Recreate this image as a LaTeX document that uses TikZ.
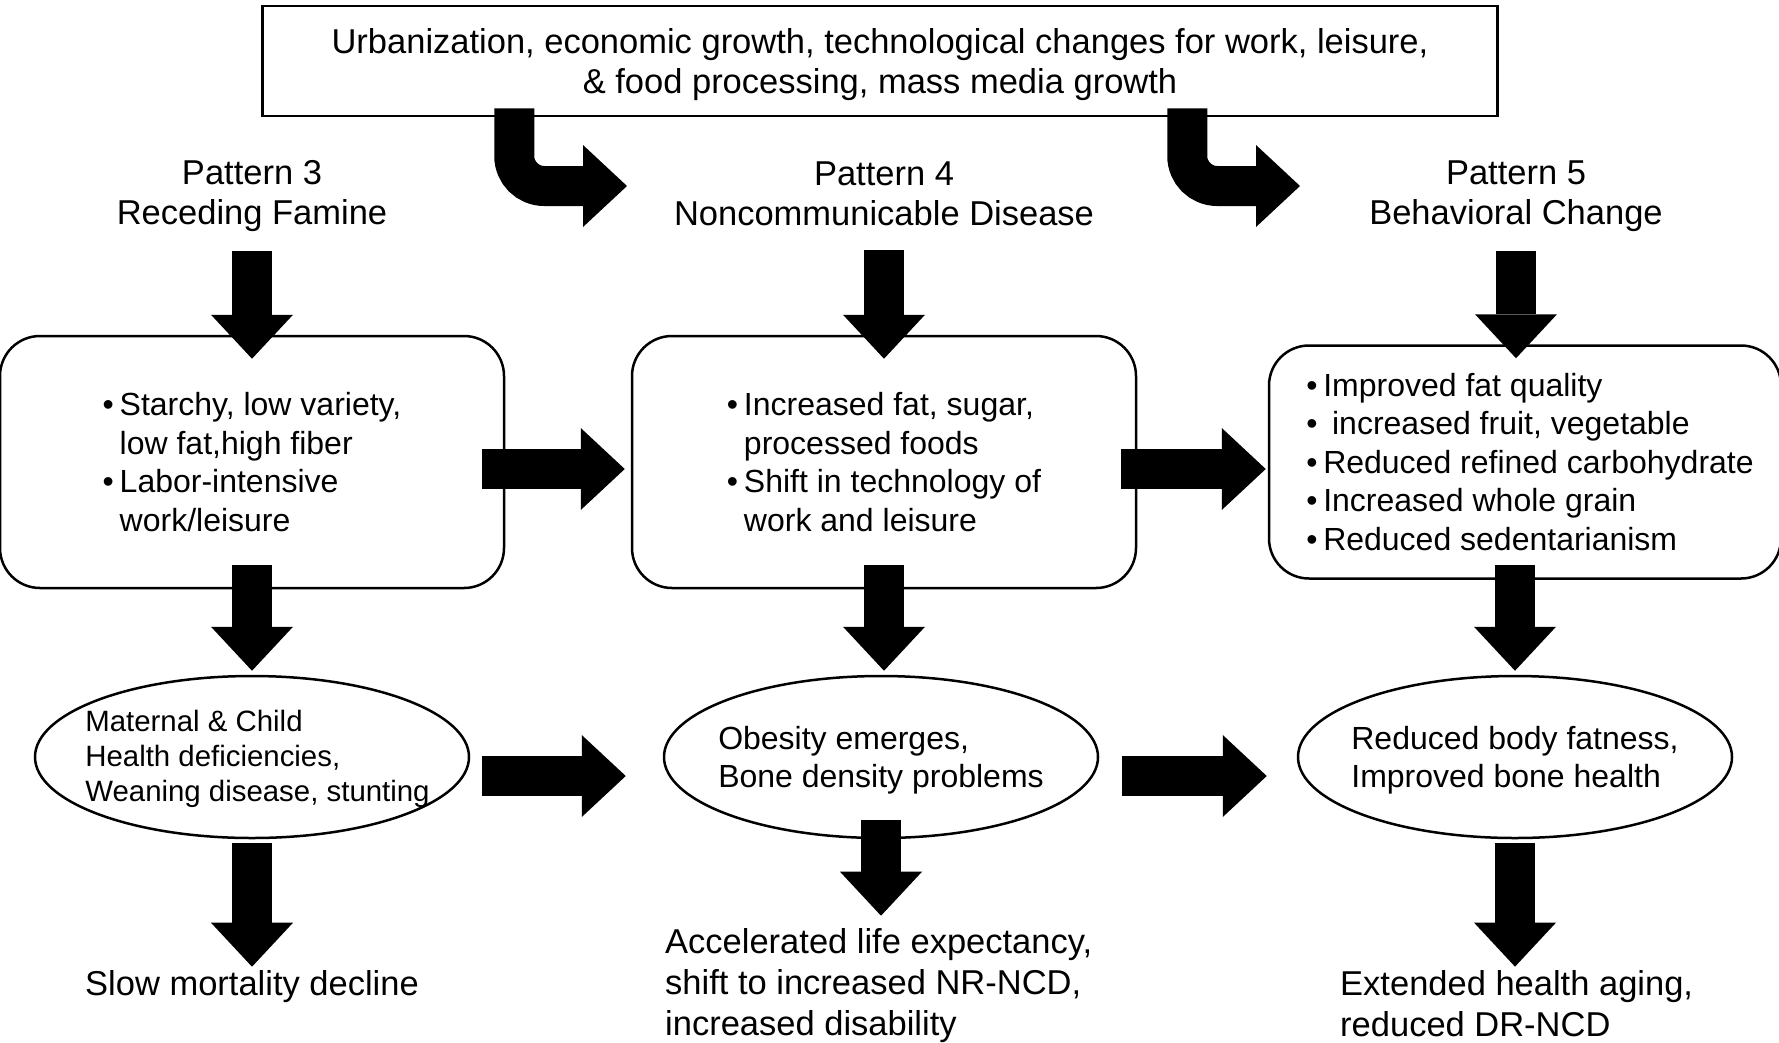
\documentclass[tikz,border=0pt]{standalone}
\usepackage{fontspec}
\setmainfont{Liberation Sans}
\usetikzlibrary{shapes,arrows.meta,calc,positioning}

\newcommand{\dietitem}{\makebox[17pt][l]{\textbullet}}
\newcommand{\dietcont}{\hspace*{17pt}}

\begin{document}
\begin{tikzpicture}[x=1pt,y=-1pt,font=\fontsize{34.5}{40}\selectfont]
  \tikzset{block arrow/.style={line width=40pt,-{Triangle[length=44pt,width=82pt,line width=0pt]}},
           diet box/.style={draw,line width=2.5pt,rounded corners=40pt,align=left,minimum width=504pt,minimum height=252pt,font=\fontsize{32}{38.5}\selectfont},
           health oval/.style={draw,ellipse,line width=2.5pt,align=left,minimum width=434pt,minimum height=162pt,inner xsep=-40pt,inner ysep=0pt,font=\fontsize{32}{38}\selectfont},
           pattern/.style={align=center,inner sep=0pt},
           outcome/.style={align=left,inner sep=0pt,anchor=west,font=\fontsize{34.5}{41}\selectfont}}
  \useasboundingbox (0,0) rectangle (1779,1042);
  \node [draw,line width=2.5pt,minimum width=1235pt,minimum height=110pt,align=center] (top) at (880,61)
    {\rule{0pt}{32pt}Urbanization, economic growth, technological changes for work, leisure,\\\& food processing, mass media growth};
  \node [pattern] (P3) at (252,196) {Pattern 3\\Receding Famine};
  \node [pattern] (P4) at (884,194) {Pattern 4\\Noncommunicable Disease};
  \node [pattern] (P5) at (1516,196) {Pattern 5\\Behavioral Change};
  \node [diet box] (D3) at (252,462) {\dietitem Starchy, low variety,\\\dietcont low fat,high fiber\\\dietitem Labor-intensive\\\dietcont work/leisure};
  \node [diet box] (D4) at (884,462) {\dietitem Increased fat, sugar,\\\dietcont processed foods\\\dietitem Shift in technology of\\\dietcont work and leisure};
  \node [diet box,minimum width=512pt,minimum height=233pt] (D5) at (1525,462)
    {\hspace*{10pt}\dietitem Improved fat quality\\\hspace*{10pt}\dietitem\ increased fruit, vegetable\\\hspace*{10pt}\dietitem Reduced refined carbohydrate\\\hspace*{10pt}\dietitem Increased whole grain\\\hspace*{10pt}\dietitem Reduced sedentarianism};
  \node [health oval,font=\fontsize{29.4}{35}\selectfont] (H3) at (252,757)
    {\hspace*{11pt}\rule{0pt}{26pt}Maternal \& Child\\\hspace*{11pt}Health deficiencies,\\\hspace*{11pt}Weaning disease, stunting};
  \node [health oval] (H4) at (881,757) {\rule{0pt}{30pt}Obesity emerges,\\Bone density problems};
  \node [health oval] (H5) at (1515,757) {\rule{0pt}{30pt}Reduced body fatness,\\Improved bone health};
  \node [outcome] (R3) at (85,987) {Slow mortality decline};
  \node [outcome] (R4) at (665,986) {Accelerated life expectancy,\\shift to increased NR-NCD,\\increased disability};
  \node [outcome] (R5) at (1340,1004) {Extended health aging,\\reduced DR-NCD};
  % bent arrows from the top box
  \coordinate (turn4) at (627,186);
  \coordinate (turn5) at (1300,186);
  \draw [block arrow,rounded corners=30pt] ($(top.south west)+(253,-9)$) |- (turn4);
  \draw [block arrow,rounded corners=30pt] ($(top.south west)+(926,-9)$) |- (turn5);
  % down the columns
  \draw [block arrow] ($(P3.south)+(0,19)$) -- ($(D3.north)+(0,24)$);
  \draw [block arrow] ($(P4.south)+(0,24)$) -- ($(D4.north)+(0,24)$);
  \draw [block arrow] ($(P5.south)+(0,19)$) -- ($(P5.south |- D5.north)+(0,14)$);
  \draw [block arrow] ($(D3.south)+(0,-24)$) -- ($(H3.north)+(0,-4)$);
  \draw [block arrow] ($(D4.south)+(0,-24)$) -- ($(D4.south |- H4.north)+(0,-4)$);
  \draw [block arrow] ($(H5.north |- D5.south)+(0,-15)$) -- ($(H5.north)+(0,-4)$);
  \draw [block arrow] ($(H3.south)+(0,4)$) -- ($(H3.south |- R3.north)+(0,-4)$);
  \draw [block arrow] ($(H4.south)+(0,-19)$) -- ($(H4.south |- R4.north)+(0,-13)$);
  \draw [block arrow] ($(H5.south)+(0,4)$) -- ($(H5.south |- R5.north)+(0,-4)$);
  % across the rows
  \draw [block arrow] ($(D3.east)+(-23,7)$) -- ($(D4.west)+(-6,7)$);
  \draw [block arrow] ($(D4.east)+(-16,7)$) -- ($(D5.west)+(-2,7)$);
  \draw [block arrow] ($(H3.east)+(12,19)$) -- ($(H4.west)+(-37,19)$);
  \draw [block arrow] ($(H4.east)+(23,19)$) -- ($(H5.west)+(-30,19)$);
\end{tikzpicture}
\end{document}
